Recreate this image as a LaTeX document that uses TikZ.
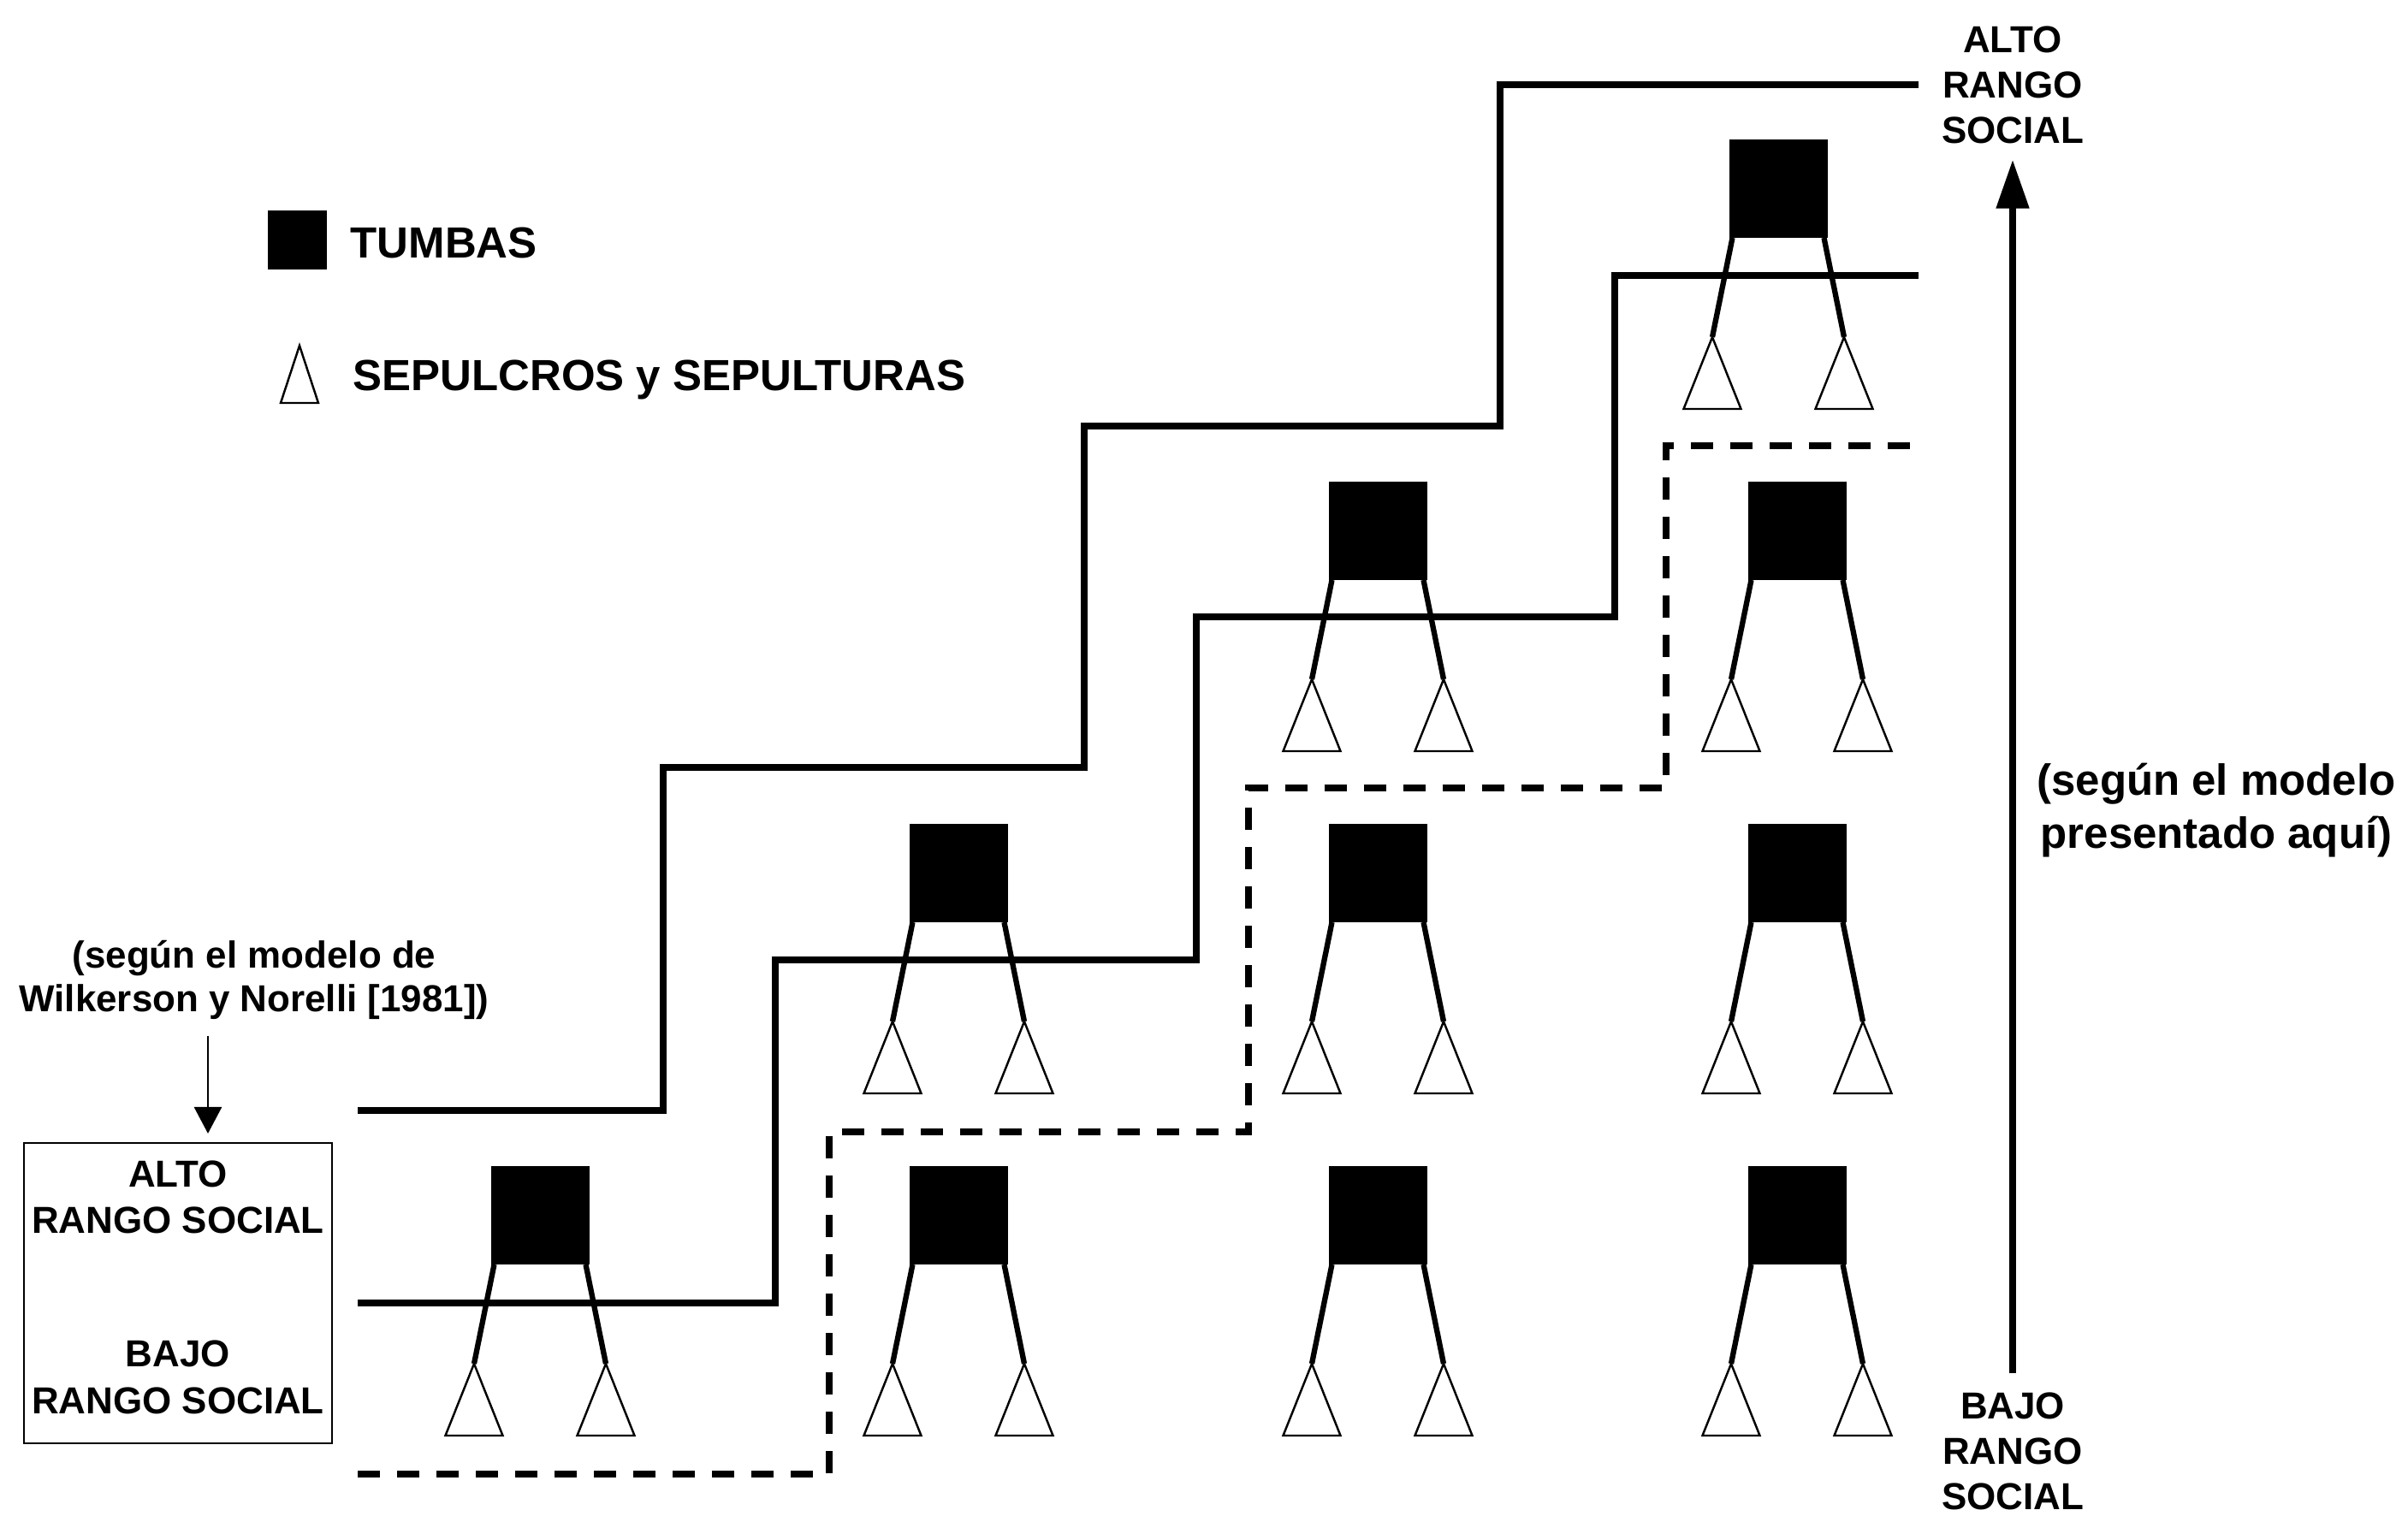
\documentclass[tikz,border=0pt]{standalone}
\usepackage{fontspec}
\setmainfont{Liberation Sans}
\usetikzlibrary{shapes.geometric,arrows.meta,positioning}

\begin{document}
\begin{tikzpicture}[
    tumba/.style={fill=black, minimum width=1.15cm, minimum height=1.15cm, inner sep=0pt, outer sep=0pt},
    fosa/.style={draw, line width=0.7pt, isosceles triangle, isosceles triangle stretches, shape border rotate=90, minimum width=0.67cm, minimum height=0.84cm, inner sep=0pt, outer sep=0pt},
    pata/.style={line width=1.8pt},
    rango/.style={line width=2.5pt},
    lbl/.style={font=\bfseries\fontsize{12.5}{15.1}\selectfont, align=center, inner sep=0pt},
    biglbl/.style={font=\bfseries\fontsize{14.5}{17.9}\selectfont, align=center, inner sep=0pt},
    flecha/.style={-{Triangle[width=0.37cm,length=0.57cm]}, line width=2.3pt},
    flechita/.style={-{Triangle[width=0.32cm,length=0.31cm]}, line width=0.8pt}
]
\useasboundingbox (0,0) rectangle (28.14,17.71);

% Legend
\node[tumba, minimum size=0.69cm] (leyc) at (3.475,14.905) {};
\node[biglbl, anchor=base west] (leyt) at (4.09,14.69) {TUMBAS};
\node[fosa, minimum width=0.44cm, minimum height=0.67cm, anchor=apex] (leyf) at (3.50,13.67) {};
\node[biglbl, anchor=base west] (leys) at (4.12,13.14) {SEPULCROS y SEPULTURAS};

% Rank lines
\draw[rango] (4.18,4.73) -- (7.75,4.73) -- (7.75,8.74) -- (12.67,8.74) -- (12.67,12.73) -- (17.53,12.73) -- (17.53,16.72) -- (22.42,16.72);
\draw[rango] (4.18,2.48) -- (9.06,2.48) -- (9.06,6.49) -- (13.98,6.49) -- (13.98,10.50) -- (18.87,10.50) -- (18.87,14.49) -- (22.42,14.49);
\draw[rango, dash pattern=on 0.26cm off 0.20cm] (4.18,0.48) -- (9.69,0.48) -- (9.69,4.48) -- (14.59,4.48) -- (14.59,8.50) -- (19.47,8.50) -- (19.47,12.50) -- (22.42,12.50);

% Tombs, column 0
\node[tumba] (t00) at (6.31,3.505) {};
\node[fosa, below left=1.16cm and 0.77cm of t00.south, anchor=apex] (s00l) {};
\node[fosa, below right=1.16cm and 0.77cm of t00.south, anchor=apex] (s00r) {};
\draw[pata] ([xshift=0.04cm]t00.south west) -- (s00l.apex) ([xshift=-0.04cm]t00.south east) -- (s00r.apex);

% Tombs, column 1
\node[tumba] (t10) at (11.20,3.505) {};
\node[fosa, below left=1.16cm and 0.77cm of t10.south, anchor=apex] (s10l) {};
\node[fosa, below right=1.16cm and 0.77cm of t10.south, anchor=apex] (s10r) {};
\draw[pata] ([xshift=0.04cm]t10.south west) -- (s10l.apex) ([xshift=-0.04cm]t10.south east) -- (s10r.apex);

\node[tumba] (t11) at (11.20,7.505) {};
\node[fosa, below left=1.16cm and 0.77cm of t11.south, anchor=apex] (s11l) {};
\node[fosa, below right=1.16cm and 0.77cm of t11.south, anchor=apex] (s11r) {};
\draw[pata] ([xshift=0.04cm]t11.south west) -- (s11l.apex) ([xshift=-0.04cm]t11.south east) -- (s11r.apex);

% Tombs, column 2
\node[tumba] (t20) at (16.10,3.505) {};
\node[fosa, below left=1.16cm and 0.77cm of t20.south, anchor=apex] (s20l) {};
\node[fosa, below right=1.16cm and 0.77cm of t20.south, anchor=apex] (s20r) {};
\draw[pata] ([xshift=0.04cm]t20.south west) -- (s20l.apex) ([xshift=-0.04cm]t20.south east) -- (s20r.apex);

\node[tumba] (t21) at (16.10,7.505) {};
\node[fosa, below left=1.16cm and 0.77cm of t21.south, anchor=apex] (s21l) {};
\node[fosa, below right=1.16cm and 0.77cm of t21.south, anchor=apex] (s21r) {};
\draw[pata] ([xshift=0.04cm]t21.south west) -- (s21l.apex) ([xshift=-0.04cm]t21.south east) -- (s21r.apex);

\node[tumba] (t22) at (16.10,11.505) {};
\node[fosa, below left=1.16cm and 0.77cm of t22.south, anchor=apex] (s22l) {};
\node[fosa, below right=1.16cm and 0.77cm of t22.south, anchor=apex] (s22r) {};
\draw[pata] ([xshift=0.04cm]t22.south west) -- (s22l.apex) ([xshift=-0.04cm]t22.south east) -- (s22r.apex);

% Tombs, column 3
\node[tumba] (t30) at (21.00,3.505) {};
\node[fosa, below left=1.16cm and 0.77cm of t30.south, anchor=apex] (s30l) {};
\node[fosa, below right=1.16cm and 0.77cm of t30.south, anchor=apex] (s30r) {};
\draw[pata] ([xshift=0.04cm]t30.south west) -- (s30l.apex) ([xshift=-0.04cm]t30.south east) -- (s30r.apex);

\node[tumba] (t31) at (21.00,7.505) {};
\node[fosa, below left=1.16cm and 0.77cm of t31.south, anchor=apex] (s31l) {};
\node[fosa, below right=1.16cm and 0.77cm of t31.south, anchor=apex] (s31r) {};
\draw[pata] ([xshift=0.04cm]t31.south west) -- (s31l.apex) ([xshift=-0.04cm]t31.south east) -- (s31r.apex);

\node[tumba] (t32) at (21.00,11.505) {};
\node[fosa, below left=1.16cm and 0.77cm of t32.south, anchor=apex] (s32l) {};
\node[fosa, below right=1.16cm and 0.77cm of t32.south, anchor=apex] (s32r) {};
\draw[pata] ([xshift=0.04cm]t32.south west) -- (s32l.apex) ([xshift=-0.04cm]t32.south east) -- (s32r.apex);

\node[tumba] (t33) at (20.78,15.505) {};
\node[fosa, below left=1.16cm and 0.77cm of t33.south, anchor=apex] (s33l) {};
\node[fosa, below right=1.16cm and 0.77cm of t33.south, anchor=apex] (s33r) {};
\draw[pata] ([xshift=0.04cm]t33.south west) -- (s33l.apex) ([xshift=-0.04cm]t33.south east) -- (s33r.apex);

% Wilkerson and Norelli model
\node[lbl, font=\bfseries\fontsize{12.5}{14.5}\selectfont, anchor=north] (wilk) at (2.97,6.72) {(según el modelo de\\Wilkerson y Norelli [1981])};
\node[lbl, font=\bfseries\fontsize{12.5}{15.4}\selectfont, draw, line width=0.6pt, minimum width=3.60cm, minimum height=3.51cm] (caja) at (2.08,2.595) {ALTO\\RANGO SOCIAL\\[1.02cm]BAJO\\RANGO SOCIAL\rule[-0.14cm]{0pt}{0pt}};
\draw[flechita, shorten <=0.18cm, shorten >=0.10cm] ([xshift=0.35cm]caja.north |- wilk.south) -- ([xshift=0.35cm]caja.north);

% Model presented here
\node[lbl, anchor=north] (alto) at (23.52,17.41) {ALTO\\RANGO\\SOCIAL};
\node[lbl, anchor=north] (bajo) at (23.52,1.44) {BAJO\\RANGO\\SOCIAL};
\draw[flecha, shorten <=0.22cm, shorten >=0.18cm] (bajo.north) -- (alto.south);
\node[biglbl, anchor=north] (modelo) at (25.90,8.80) {(según el modelo\\presentado aquí)};

\end{tikzpicture}
\end{document}
